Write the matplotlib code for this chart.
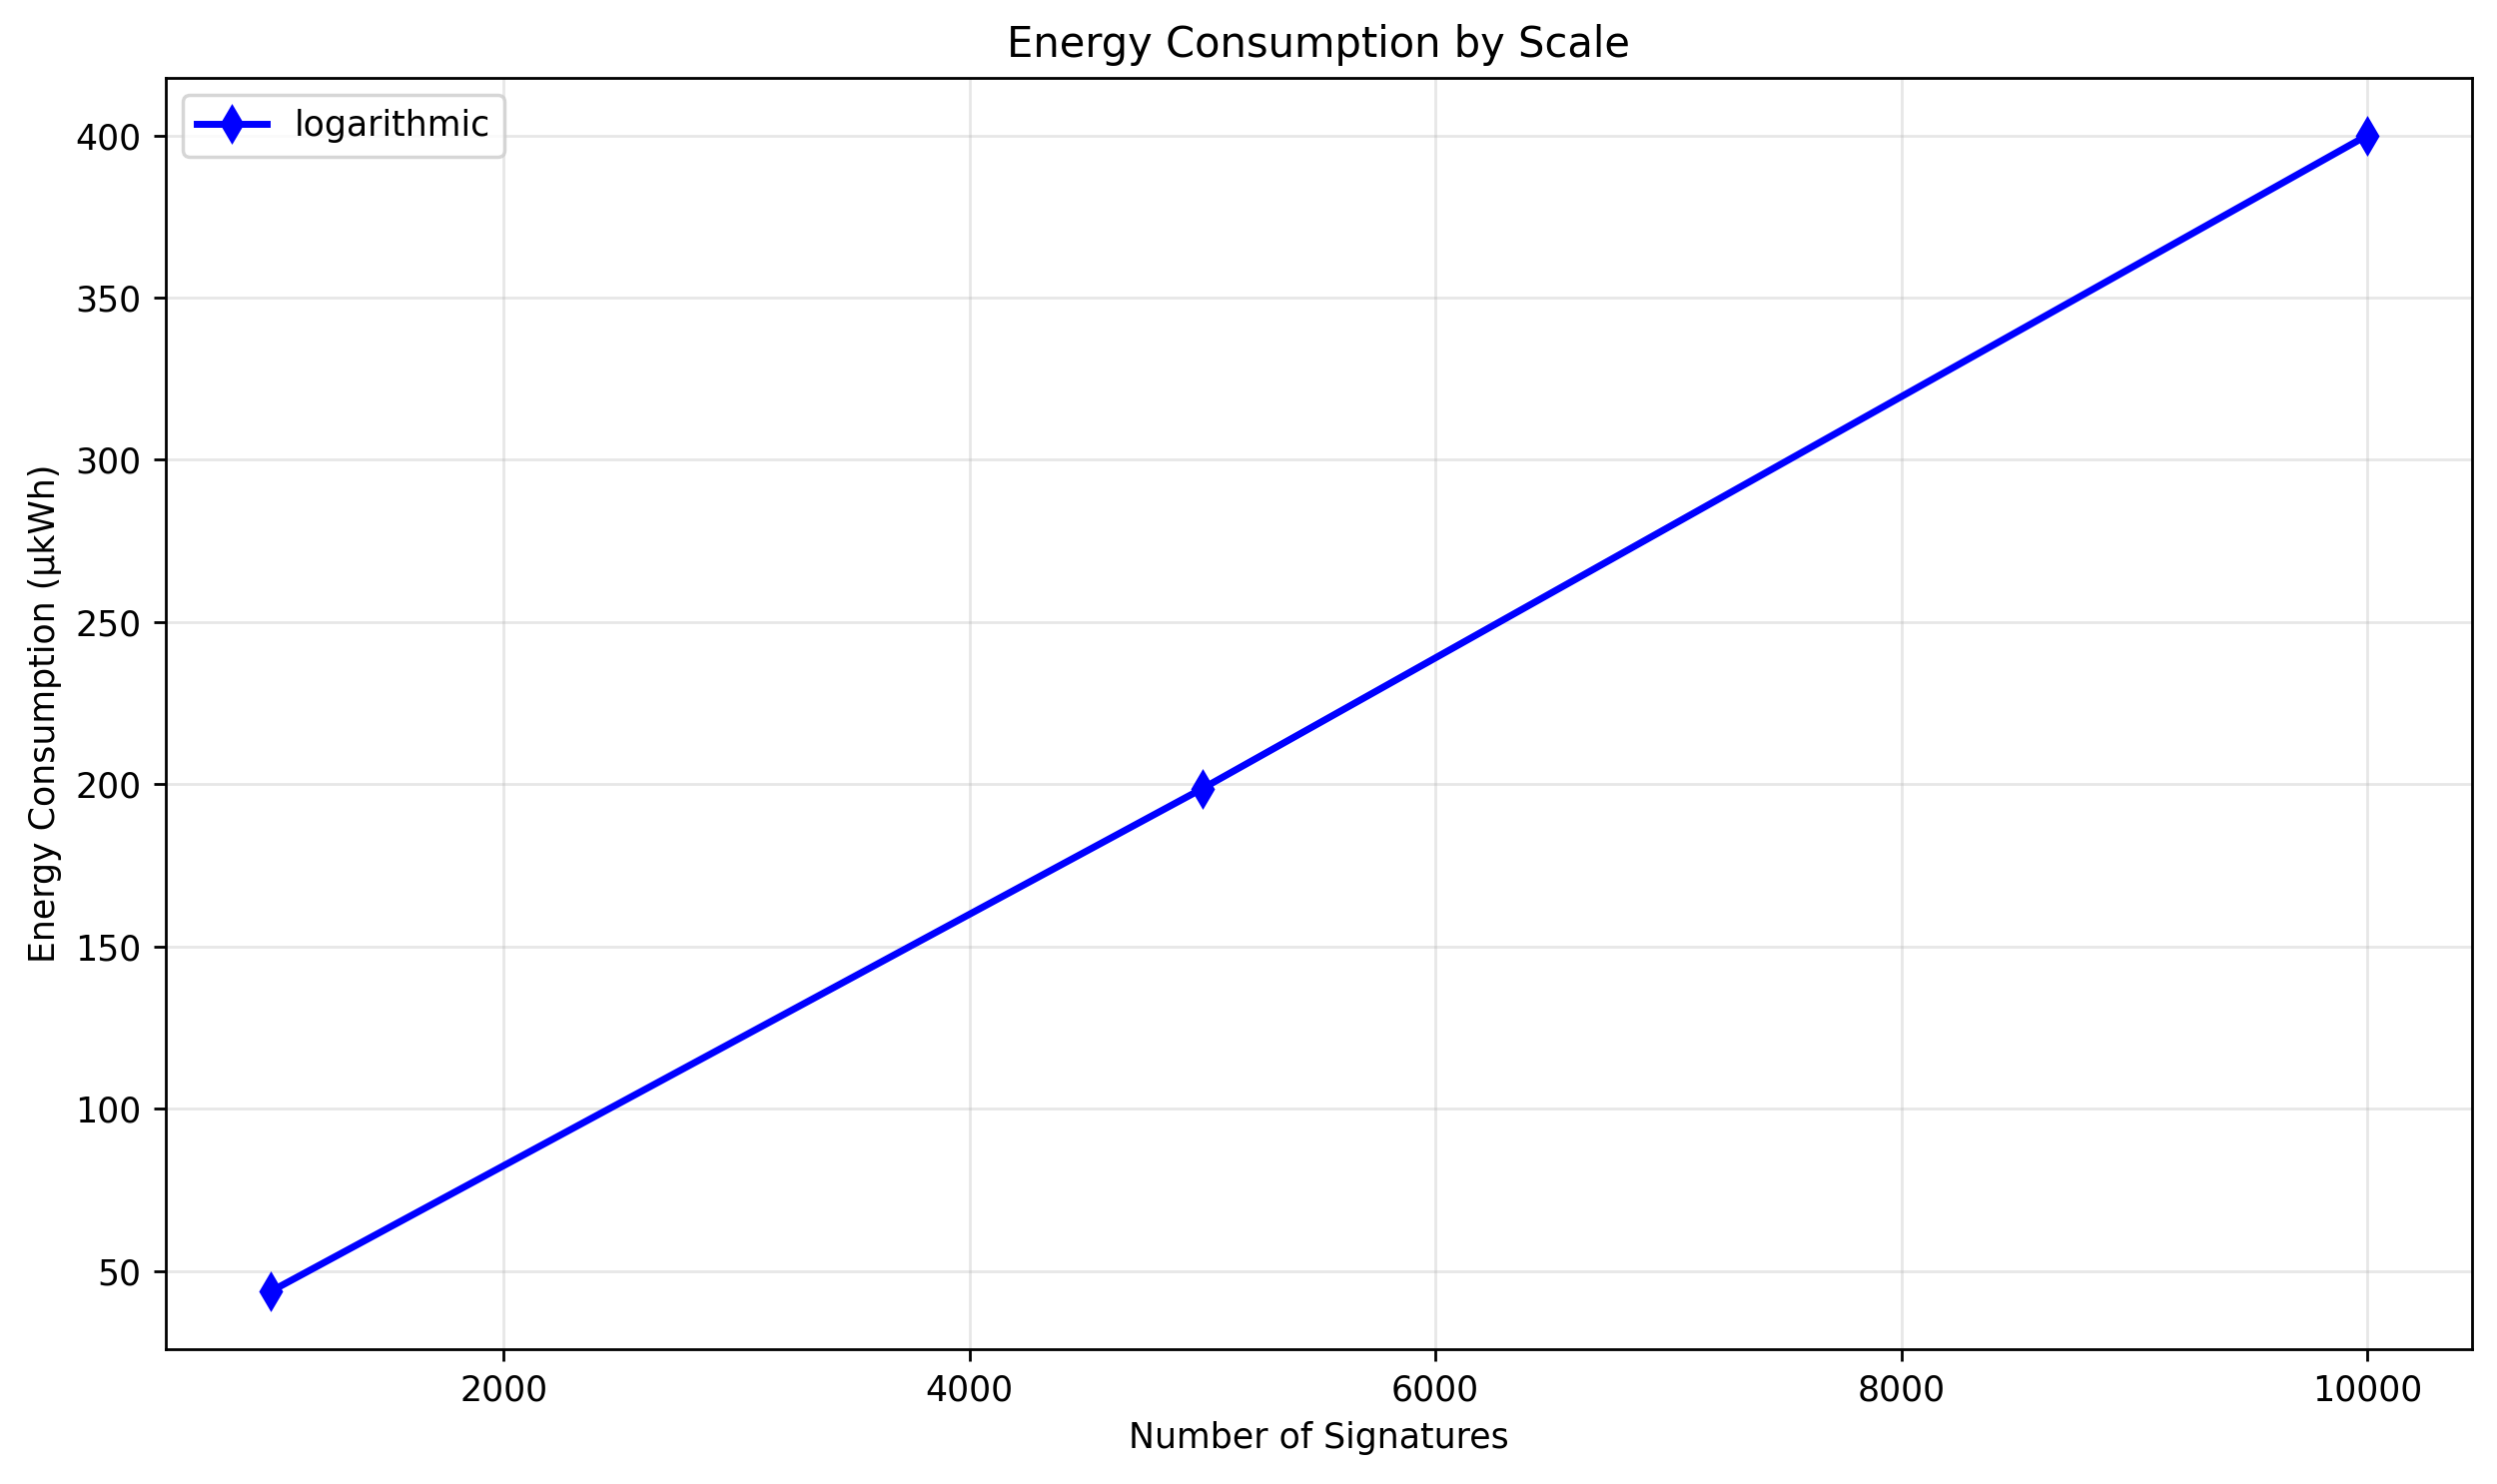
import matplotlib
matplotlib.use("Agg")
import matplotlib.pyplot as plt

signatures = [1000, 5000, 10000]
energy = [43.7, 198.7, 400.0]
series_label = "logarithmic"

fig, ax = plt.subplots(figsize=(10, 5.944), dpi=250)
ax.plot(signatures, energy, color="blue", marker="d", linewidth=2, markersize=7, label=series_label)
ax.set_title("Energy Consumption by Scale")
ax.set_xlabel("Number of Signatures")
ax.set_ylabel("Energy Consumption (μkWh)")
ax.grid(True, alpha=0.3)
ax.legend(loc="upper left")
fig.subplots_adjust(left=0.0664, right=0.99, top=0.9477, bottom=0.0908)
fig.savefig("out.png", dpi=250)
